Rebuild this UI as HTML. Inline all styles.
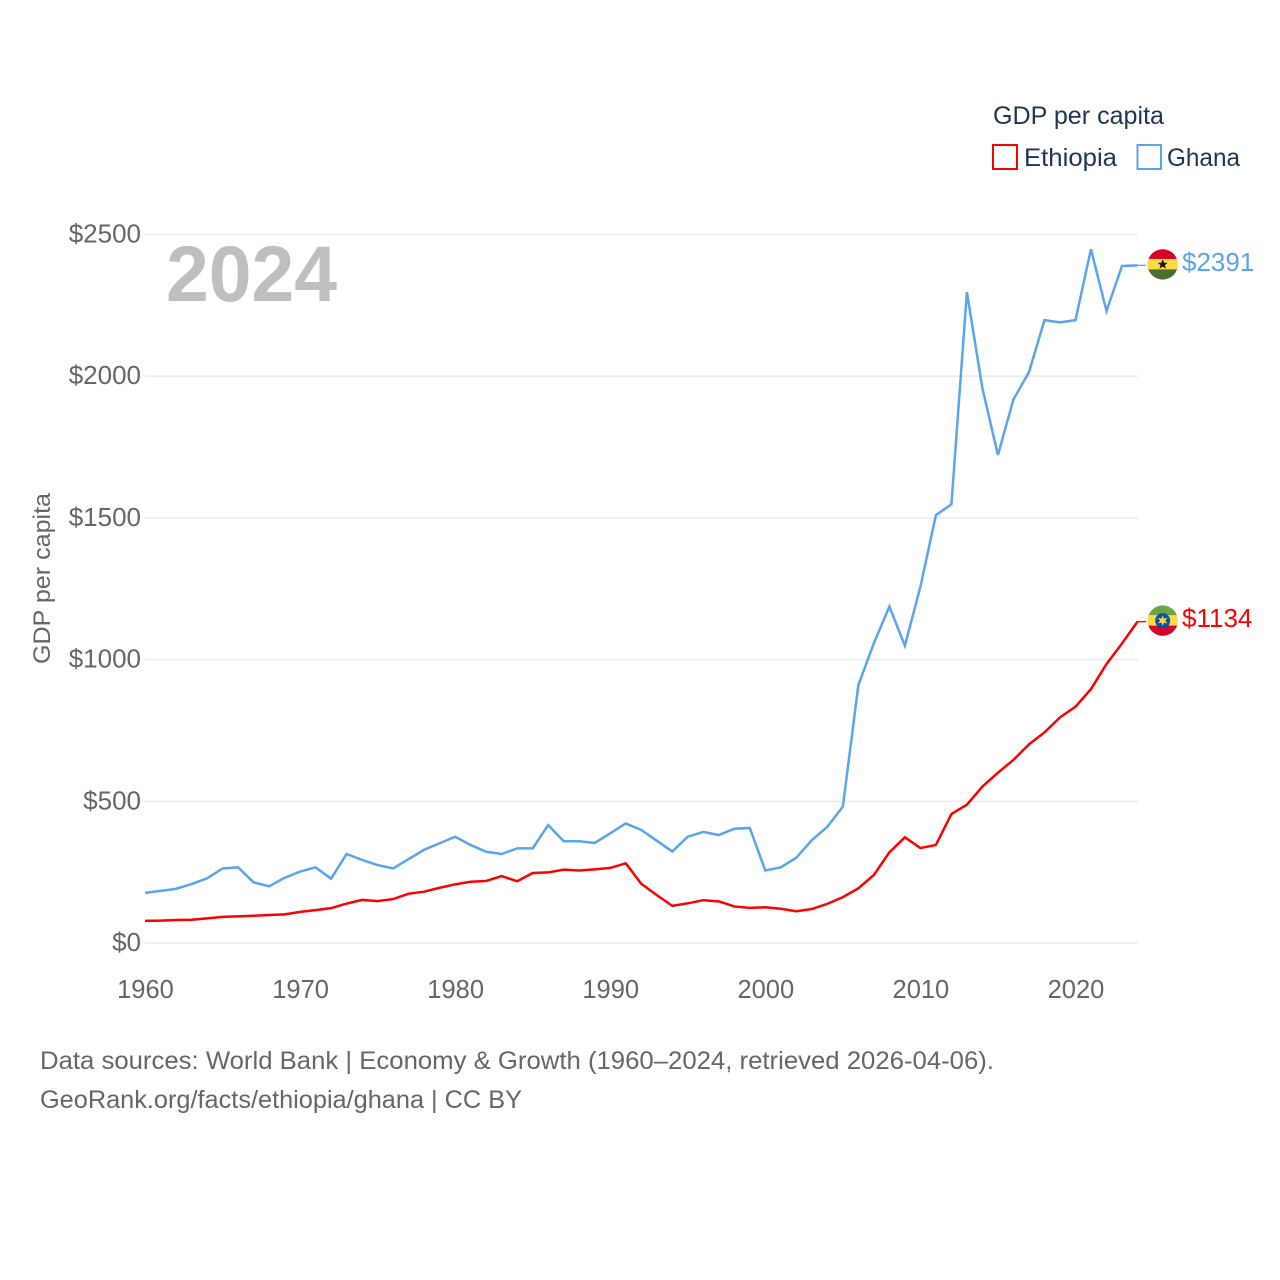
<!DOCTYPE html>
<html lang="en">
<head>
<meta charset="utf-8">
<title>GDP per capita: Ethiopia and Ghana</title>
<style>
html,body{margin:0;padding:0;background:#fff;}
svg{display:block;}
text{font-family:"Liberation Sans",sans-serif;}
</style>
</head>
<body>
<svg id="chart" width="1280" height="1280" viewBox="0 0 1280 1280" xmlns="http://www.w3.org/2000/svg">
  <defs>
    <clipPath id="flag-clip"><circle cx="0" cy="0" r="15.2"></circle></clipPath>
  </defs>
  <rect x="0" y="0" width="1280" height="1280" fill="#ffffff"></rect>
  <g id="grid"></g>
  <g id="yticks"></g>
  <g id="xticks"></g>
  <text x="166" y="301" font-size="79" font-weight="700" fill="#bfbfbf" textLength="171" lengthAdjust="spacingAndGlyphs">2024</text>
  <text transform="translate(50,664) rotate(-90)" font-size="24" fill="#666666" textLength="171" lengthAdjust="spacingAndGlyphs">GDP per capita</text>
  <g id="series"></g>

  <g id="flag-ghana">
    <g clip-path="url(#flag-clip)">
      <rect x="-16" y="-16" width="32" height="11" fill="#d80027"></rect>
      <rect x="-16" y="-5.5" width="32" height="11" fill="#ffda44"></rect>
      <rect x="-16" y="5" width="32" height="11" fill="#496e2d"></rect>
      <polygon points="0,-5 1.5,-1.6 5,-1.6 2.2,0.7 3.2,4.2 0,2.2 -3.2,4.2 -2.2,0.7 -5,-1.6 -1.5,-1.6" fill="#1a1a1a"></polygon>
    </g>
  </g>
  <g id="flag-ethiopia">
    <g clip-path="url(#flag-clip)">
      <rect x="-16" y="-16" width="32" height="11" fill="#6da544"></rect>
      <rect x="-16" y="-5.5" width="32" height="11" fill="#ffda44"></rect>
      <rect x="-16" y="5" width="32" height="11" fill="#d80027"></rect>
      <circle cx="0" cy="0" r="7.5" fill="#0052b4"></circle>
      <polygon points="0,-5.5 1.2,-2 4.8,-2.8 2.6,0 4.8,2.8 1.2,2 0,5.5 -1.2,2 -4.8,2.8 -2.6,0 -4.8,-2.8 -1.2,-2" fill="#ffda44"></polygon>
    </g>
  </g>
  <g id="labels"></g>

  <g>
    <text x="993" y="124" font-size="25" fill="#1d3557" textLength="171" lengthAdjust="spacingAndGlyphs">GDP per capita</text>
    <g>
      <rect x="993" y="145" width="24" height="24" fill="#ffffff" stroke="#ff0000" stroke-width="2"></rect>
      <text x="1024" y="166" font-size="25" fill="#1d3557" textLength="93" lengthAdjust="spacingAndGlyphs">Ethiopia</text>
    </g>
    <g>
      <rect x="1137.5" y="145" width="23.5" height="24" fill="#ffffff" stroke="#5ba4ee" stroke-width="2"></rect>
      <text x="1167" y="166" font-size="25" fill="#1d3557" textLength="73" lengthAdjust="spacingAndGlyphs">Ghana</text>
    </g>
  </g>

  <text x="40" y="1069" font-size="25" fill="#666666" textLength="954" lengthAdjust="spacingAndGlyphs">Data sources: World Bank | Economy &amp; Growth (1960–2024, retrieved 2026-04-06).</text>
  <text x="40" y="1108" font-size="25" fill="#666666" textLength="482" lengthAdjust="spacingAndGlyphs">GeoRank.org/facts/ethiopia/ghana | CC BY</text>
</svg>
<script>
const years = [1960,1961,1962,1963,1964,1965,1966,1967,1968,1969,1970,1971,1972,1973,1974,1975,1976,1977,1978,1979,1980,1981,1982,1983,1984,1985,1986,1987,1988,1989,1990,1991,1992,1993,1994,1995,1996,1997,1998,1999,2000,2001,2002,2003,2004,2005,2006,2007,2008,2009,2010,2011,2012,2013,2014,2015,2016,2017,2018,2019,2020,2021,2022,2023,2024];
const ethiopiaValues = [78,79,81,82,87,92,94,96,99,101,110,116,123,139,152,148,155,174,181,195,207,216,219,236,218,247,249,259,256,260,265,281,209,169,131,140,151,147,129,124,126,121,112,120,138,162,193,240,320,373,335,346,455,488,552,601,646,701,743,796,834,896,984,1057,1134];
const ghanaValues = [177,184,191,208,228,263,267,214,200,230,252,267,227,314,293,275,263,296,329,352,375,346,322,314,334,334,416,359,359,353,387,422,399,361,323,375,392,381,403,406,256,267,301,363,410,481,910,1058,1187,1049,1257,1510,1548,2297,1957,1722,1918,2014,2198,2190,2198,2448,2230,2389,2391];
const yTickValues = [0,500,1000,1500,2000,2500];
const xTickValues = [1960,1970,1980,1990,2000,2010,2020];

const SVG_NS = 'http://www.w3.org/2000/svg';
const plotLeft = 145, plotRight = 1137.5, plotBottom = 943, plotTop = 234.5;
const xMin = 1960, xMax = 2024, yMin = 0, yMax = 2500;
function xScale(year){ return plotLeft + (year - xMin) / (xMax - xMin) * (plotRight - plotLeft); }
function yScale(value){ return plotBottom - (value - yMin) / (yMax - yMin) * (plotBottom - plotTop); }
function make(tag, attrs, parent, text){
  const el = document.createElementNS(SVG_NS, tag);
  Object.keys(attrs).forEach(function(k){ el.setAttribute(k, attrs[k]); });
  if (text !== undefined) el.textContent = text;
  parent.appendChild(el);
  return el;
}

const gridG = document.getElementById('grid');
const yTicksG = document.getElementById('yticks');
const xTicksG = document.getElementById('xticks');
const seriesG = document.getElementById('series');
const labelsG = document.getElementById('labels');

yTickValues.forEach(function(v){
  const line = make('line', {x1: plotLeft - 0.5, x2: plotRight + 0.5, y1: yScale(v), y2: yScale(v), stroke: '#ececec', 'stroke-width': 1.6}, gridG);
  
  
  const label = make('text', {x: 141, y: yScale(v) + 8, 'text-anchor': 'end', 'font-size': 26, fill: '#666666'}, yTicksG, '$' + v);
  
  
});

xTickValues.forEach(function(y){
  const label = make('text', {x: xScale(y) + 0.5, y: 998, 'text-anchor': 'middle', 'font-size': 25.5, fill: '#666666'}, xTicksG, String(y));
  
  
});

function drawSeries(values, color, lineName, labelName, leaderName, flagId){
  const pts = values.map(function(v, i){ return xScale(years[i]).toFixed(2) + ',' + yScale(v).toFixed(2); }).join(' ');
  const line = make('polyline', {points: pts, fill: 'none', stroke: color, 'stroke-width': 2.5, 'stroke-linejoin': 'miter'}, seriesG);
  
  
  const last = values[values.length - 1];
  const endY = yScale(last);
  const leader = make('line', {x1: plotRight, x2: 1146, y1: endY, y2: endY, stroke: color, 'stroke-width': 1.4}, seriesG);
  
  
  document.getElementById(flagId).setAttribute('transform', 'translate(1162.7,' + (endY - 1) + ')');
  const label = make('text', {x: 1182, y: endY + 5.6, 'font-size': 26, fill: color}, labelsG, '$' + last);
  
  
}

drawSeries(ghanaValues, '#5ba4ee', 'ghana-line', 'ghana-value-label', 'ghana-leader-line', 'flag-ghana');
drawSeries(ethiopiaValues, '#ff0000', 'ethiopia-line', 'ethiopia-value-label', 'ethiopia-leader-line', 'flag-ethiopia');
</script>
</body>
</html>
